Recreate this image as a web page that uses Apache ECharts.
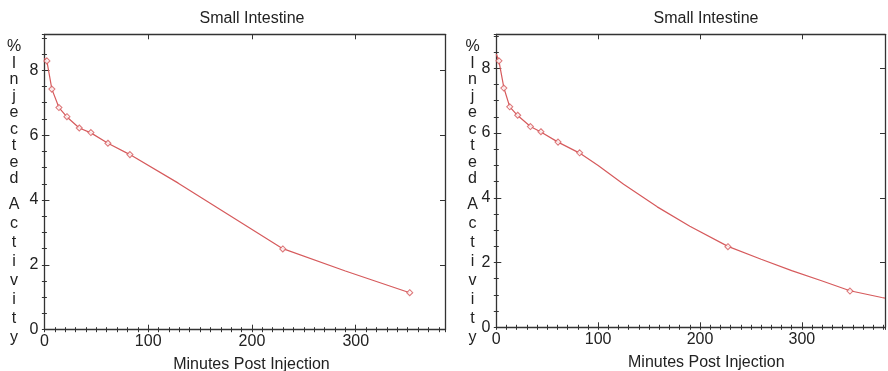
<!DOCTYPE html>
<html>
<head>
<meta charset="utf-8">
<script src="https://cdn.jsdelivr.net/npm/echarts@6/dist/echarts.min.js"></script>
<style>
html,body{margin:0;padding:0;background:#fff;}
#c{width:888px;height:371px;}
</style>
</head>
<body>
<div id="c"></div>
<script>
// ---- Data ----
const chartTitle = 'Small Intestine';
const xAxisTitle = 'Minutes Post Injection';
const yTitleTop = ['%', 'I', 'n', 'j', 'e', 'c', 't', 'e', 'd'];
const yTitleBottom = ['A', 'c', 't', 'i', 'v', 'i', 't', 'y'];

// Left panel: measured points
const leftTimes  = [2.4, 7.2, 14.0, 21.7, 33.6, 44.8, 61.2, 82.4, 229.7, 352.0];
const leftValues = [8.29, 7.42, 6.85, 6.57, 6.22, 6.08, 5.75, 5.40, 2.49, 1.14];
// Left panel: fitted curve (piecewise)
const leftFitTimes  = [0, 2.4, 7.2, 14.0, 21.7, 33.6, 44.8, 61.2, 82.4, 129, 229.7, 290, 352.0];
const leftFitValues = [8.37, 8.28, 7.42, 6.85, 6.56, 6.22, 6.07, 5.75, 5.40, 4.52, 2.50, 1.81, 1.14];

// Right panel: measured points
const rightTimes  = [2.6, 7.4, 13.2, 21.0, 33.5, 43.8, 60.6, 81.8, 227.4, 347.2];
const rightValues = [8.23, 7.39, 6.81, 6.55, 6.20, 6.04, 5.72, 5.39, 2.49, 1.12];
// Right panel: fitted curve
const rightFitTimes  = [0, 2.6, 7.4, 13.2, 21.0, 33.5, 43.8, 60.6, 81.8, 100, 125, 158, 190, 227.4, 260, 290, 320, 347.2, 378.4, 381.6];
const rightFitValues = [8.44, 8.22, 7.40, 6.81, 6.54, 6.20, 6.03, 5.72, 5.38, 5.00, 4.42, 3.72, 3.12, 2.50, 2.10, 1.75, 1.43, 1.13, 0.92, 0.90];

const xMajorTicks = [0, 100, 200, 300];
const yMajorTicks = [0, 2, 4, 6, 8];

// ---- Styling ----
const FONT = '"Liberation Sans", Arial, Helvetica, sans-serif';
const RED = '#d65a5c';
const AX = '#333';
const TXT = '#222';

const panels = [
  {grid: {left: 44.4, top: 34.3, width: 400.6, height: 295.4}, xmax: 386, ymax: 9.11,
   tx: 252, ty: 18.5, nx: 251.5, ny: 364.5, lx: 14,
   pts: [leftTimes, leftValues], fit: [leftFitTimes, leftFitValues]},
  {grid: {left: 496.3, top: 34.3, width: 394.7, height: 293}, xmax: 381.6, ymax: 9.05,
   tx: 706, ty: 18.5, nx: 706.3, ny: 362.5, lx: 472.5,
   pts: [rightTimes, rightValues], fit: [rightFitTimes, rightFitValues]}
];

const xAxes = [], yAxes = [], series = [], graphics = [];

panels.forEach((p, g) => {
  const line = {show: true, onZero: false, lineStyle: {color: AX, width: 1.3}};
  const noLine = {show: false};
  const lab = {show: true, fontSize: 16, color: TXT, fontFamily: FONT};
  const xBase = {type: 'value', gridIndex: g, min: 0, max: p.xmax, splitLine: {show: false}};
  const yBase = {type: 'value', gridIndex: g, min: 0, max: p.ymax, splitLine: {show: false}};
  const xi = xAxes.length, yi = yAxes.length;
  // bottom major
  xAxes.push(Object.assign({}, xBase, {position: 'bottom', interval: 100, axisLine: line,
    axisTick: {show: true, inside: true, length: 5, lineStyle: {color: AX, width: 1}},
    axisLabel: Object.assign({}, lab, {margin: 4, formatter: v => xMajorTicks.includes(v) ? String(v) : ''})}));
  // bottom minor
  xAxes.push(Object.assign({}, xBase, {position: 'bottom', interval: 10, axisLine: noLine,
    axisTick: {show: true, inside: true, length: 2.5, lineStyle: {color: AX, width: 1}}, axisLabel: {show: false}}));
  // top major
  xAxes.push(Object.assign({}, xBase, {position: 'top', interval: 100, axisLine: line,
    axisTick: {show: true, inside: true, length: 5, lineStyle: {color: AX, width: 1}}, axisLabel: {show: false}}));
  // top minor
  xAxes.push(Object.assign({}, xBase, {position: 'top', interval: 10, axisLine: noLine,
    axisTick: {show: true, inside: true, length: 2.5, lineStyle: {color: AX, width: 1}}, axisLabel: {show: false}}));
  // left major
  yAxes.push(Object.assign({}, yBase, {position: 'left', interval: 2, axisLine: line,
    axisTick: {show: true, inside: true, length: 5, lineStyle: {color: AX, width: 1}},
    axisLabel: Object.assign({}, lab, {margin: 6, formatter: v => yMajorTicks.includes(v) ? String(v) : ''})}));
  // left minor
  yAxes.push(Object.assign({}, yBase, {position: 'left', interval: 0.5, axisLine: noLine,
    axisTick: {show: true, inside: true, length: 2.5, lineStyle: {color: AX, width: 1}}, axisLabel: {show: false}}));
  // right major
  yAxes.push(Object.assign({}, yBase, {position: 'right', interval: 2, axisLine: line,
    axisTick: {show: true, inside: true, length: 5, lineStyle: {color: AX, width: 1}}, axisLabel: {show: false}}));
  // right minor
  yAxes.push(Object.assign({}, yBase, {position: 'right', interval: 0.5, axisLine: noLine,
    axisTick: {show: true, inside: true, length: 2.5, lineStyle: {color: AX, width: 1}}, axisLabel: {show: false}}));

  series.push({
    type: 'line', xAxisIndex: xi, yAxisIndex: yi, symbol: 'none', smooth: false,
    lineStyle: {color: RED, width: 1.2}, z: 2, silent: true,
    data: p.fit[0].map((t, i) => [t, p.fit[1][i]])
  });
  series.push({
    type: 'scatter', xAxisIndex: xi, yAxisIndex: yi, symbol: 'diamond', symbolSize: 6,
    itemStyle: {color: '#fff', borderColor: RED, borderWidth: 1.1}, z: 3, silent: true,
    data: p.pts[0].map((t, i) => [t, p.pts[1][i]])
  });

  const f = '16px ' + FONT;
  graphics.push({type: 'text', x: p.tx, y: p.ty, silent: true,
    style: {text: chartTitle, font: f, fill: TXT, align: 'center', verticalAlign: 'middle'}});
  graphics.push({type: 'text', x: p.nx, y: p.ny, silent: true,
    style: {text: xAxisTitle, font: f, fill: TXT, align: 'center', verticalAlign: 'middle'}});
  graphics.push({type: 'text', x: p.lx, y: 38.8, silent: true,
    style: {text: yTitleTop.join('\n'), font: f, lineHeight: 16.5, fill: TXT, align: 'center', verticalAlign: 'top'}});
  graphics.push({type: 'text', x: p.lx, y: 194.8, silent: true,
    style: {text: yTitleBottom.join('\n'), font: f, lineHeight: 19.1, fill: TXT, align: 'center', verticalAlign: 'top'}});
});

const chart = echarts.init(document.getElementById('c'), null, {renderer: 'canvas'});
chart.setOption({
  animation: false,
  backgroundColor: '#fff',
  textStyle: {fontFamily: FONT},
  grid: panels.map(p => Object.assign({containLabel: false}, p.grid)),
  xAxis: xAxes,
  yAxis: yAxes,
  series: series,
  graphic: graphics
});
</script>
</body>
</html>
